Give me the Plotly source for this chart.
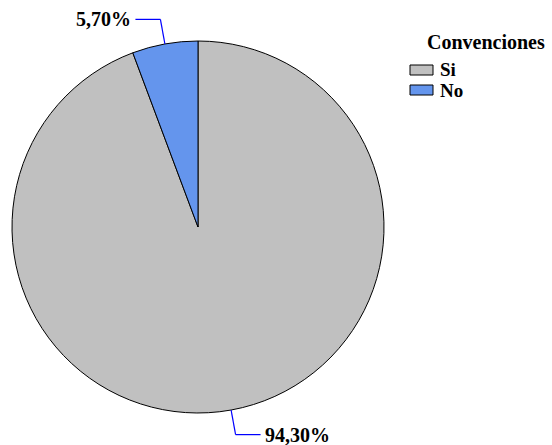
import math
import plotly.graph_objects as go

# Datos de la encuesta
categorias = ["Si", "No"]
porcentajes = [94.30, 5.70]
colores = ["#C0C0C0", "#6495ED"]
etiquetas = ["94,30%", "5,70%"]
titulo_leyenda = "Convenciones"

W, H = 552, 445
# geometría del pastel (en píxeles)
cx, cy, r = 198, 227, 186
FUENTE = "Liberation Serif"

fig = go.Figure(go.Pie(
    labels=categorias,
    values=porcentajes,
    sort=False,
    direction="clockwise",
    rotation=0,
    marker=dict(colors=colores, line=dict(color="black", width=1)),
    textinfo="none",
    hoverinfo="label+percent",
    showlegend=False,
    domain=dict(x=[(cx - r) / W, (cx + r) / W], y=[1 - (cy + r) / H, 1 - (cy - r) / H]),
))


def px(x):
    return x / W


def py(y):
    return 1 - y / H


# líneas guía y rótulos calculados a partir de los ángulos de cada sector
total = sum(porcentajes)
inicio = 90.0
shapes, annotations = [], []
for valor, texto in zip(porcentajes, etiquetas):
    barrido = 360.0 * valor / total
    medio = inicio - barrido / 2.0
    inicio -= barrido
    a = math.radians(medio)
    x0 = cx + r * math.cos(a)
    y0 = cy - r * math.sin(a)
    x1 = cx + (r + 25) * math.cos(a)
    y1 = cy - (r + 25) * math.sin(a)
    lado = 1 if math.cos(a) >= 0 else -1
    x2 = x1 + lado * 25
    linea = dict(color="blue", width=1.2)
    shapes.append(dict(type="line", xref="paper", yref="paper",
                       x0=px(x0), y0=py(y0), x1=px(x1), y1=py(y1), line=linea))
    shapes.append(dict(type="line", xref="paper", yref="paper",
                       x0=px(x1), y0=py(y1), x1=px(x2), y1=py(y1), line=linea))
    annotations.append(dict(
        x=px(x2 + lado * 2), y=py(y1), xref="paper", yref="paper",
        text=f"<b>{texto}</b>", showarrow=False,
        xanchor="left" if lado > 0 else "right", yanchor="middle",
        font=dict(family=FUENTE, size=20, color="black"),
    ))

# leyenda dibujada a mano: título, recuadros de color y nombres
annotations.append(dict(
    x=px(486), y=py(42), xref="paper", yref="paper",
    text=f"<b>{titulo_leyenda}</b>", showarrow=False,
    xanchor="center", yanchor="middle",
    font=dict(family=FUENTE, size=20, color="black"),
))
for i, (nombre, color) in enumerate(zip(categorias, colores)):
    yc = 70 + 20 * i
    shapes.append(dict(type="rect", xref="paper", yref="paper",
                       x0=px(410), x1=px(433), y0=py(yc - 5), y1=py(yc + 5),
                       fillcolor=color, line=dict(color="black", width=1)))
    annotations.append(dict(
        x=px(438), y=py(yc), xref="paper", yref="paper",
        text=f"<b>{nombre}</b>", showarrow=False,
        xanchor="left", yanchor="middle",
        font=dict(family=FUENTE, size=19, color="black"),
    ))

fig.update_layout(
    width=W, height=H,
    margin=dict(l=0, r=0, t=0, b=0),
    paper_bgcolor="white",
    plot_bgcolor="white",
    font=dict(family=FUENTE, color="black"),
    shapes=shapes,
    annotations=annotations,
    showlegend=False,
)

fig.write_html("out.html")
